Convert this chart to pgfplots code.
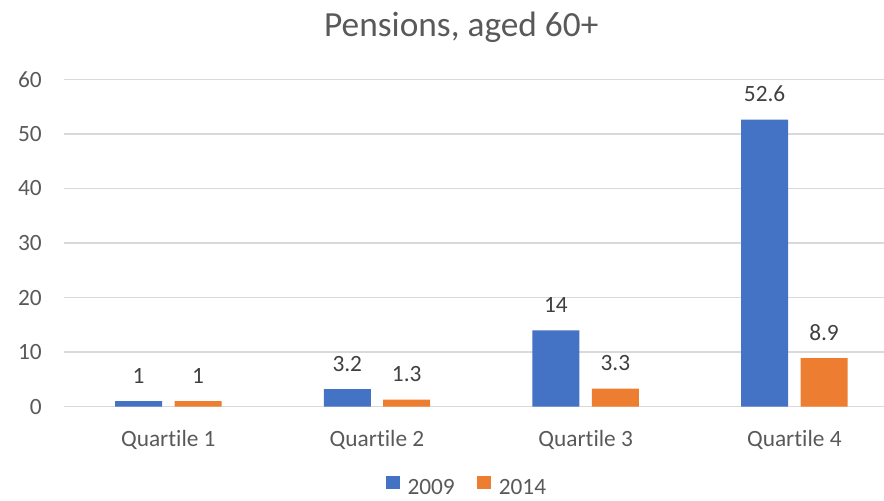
\documentclass[border=0pt]{standalone}
\usepackage{fontspec}
\setmainfont{Carlito}[Ligatures=NoCommon]
\usepackage{pgfplots}
\pgfplotsset{compat=1.18}
\definecolor{xlblue}{HTML}{4472C4}
\definecolor{xlorange}{HTML}{ED7D31}
\definecolor{txtgray}{HTML}{595959}
\definecolor{lblgray}{HTML}{404040}
\definecolor{gridgray}{HTML}{D9D9D9}

\begin{document}
\begin{tikzpicture}
\useasboundingbox (-48pt,-70.7pt) rectangle (615pt,305pt);
\begin{axis}[
    scale only axis, width=626pt, height=245.5pt,
    ybar=9.3pt, bar width=35.25pt,
    xmin=-0.5, xmax=3.5, ymin=0, ymax=60,
    xtick=data, xticklabels={Quartile 1,Quartile 2,Quartile 3,Quartile 4},
    ytick={0,10,...,60},
    axis line style={draw=none},
    ymajorgrids, major grid style={gridgray, line width=1pt},
    major tick length=0pt,
    /pgf/number format/assume math mode=true,
    font=\fontsize{17.5}{20}\selectfont,
    tick label style={txtgray},
    xticklabel style={anchor=base, inner sep=0pt, yshift=-29.5pt},
    yticklabel style={anchor=east, inner sep=0pt, xshift=-16.5pt},
    title={Pensions, aged 60+},
    every axis title shift=0pt,
    title style={at={(0.476,1.132)}, anchor=base, txtgray, inner sep=0pt,
        font=\fontsize{26.5}{30}\selectfont},
    nodes near coords,
    every node near coord/.append style={anchor=base, yshift=13.5pt, inner sep=0pt, lblgray},
    legend columns=2,
    legend style={draw=none, fill=none, at={(0.4834,-0.247)}, anchor=center,
        text=txtgray, inner sep=0pt,
        /tikz/every odd column/.append style={column sep=4pt},
        /tikz/every even column/.append style={column sep=15pt}},
    legend image code/.code={\fill[#1] (0pt,-1pt) rectangle (10pt,9pt);},
]
\addplot[fill=xlblue, draw=none] coordinates {(0,1) (1,3.2) (2,14) (3,52.6)};
\addplot[fill=xlorange, draw=none] coordinates {(0,1) (1,1.3) (2,3.3) (3,8.9)};
\legend{2009,2014}
\end{axis}
\end{tikzpicture}
\end{document}
